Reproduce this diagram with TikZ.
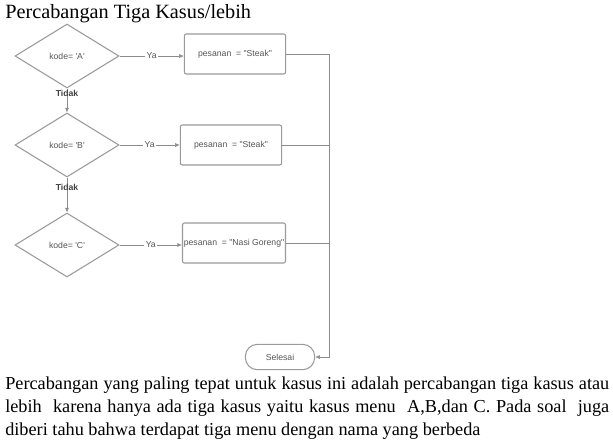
\documentclass[tikz,border=0pt]{standalone}
\usepackage{fontspec}
\setmainfont{Liberation Serif}
\newfontfamily\diagfont{Liberation Sans}
\usetikzlibrary{shapes.geometric,arrows.meta}

\definecolor{linegray}{HTML}{8C8C8C}
\definecolor{boxgray}{HTML}{9A9A9A}
\definecolor{txtgray}{HTML}{555555}

\tikzset{
  cek/.style={diamond,draw=boxgray,thick,minimum width=78pt,minimum height=48pt,
    inner sep=0pt,font=\diagfont\fontsize{6.5}{7}\selectfont,text=txtgray},
  proses/.style={rectangle,draw=boxgray,thick,rounded corners=1.5pt,minimum width=76pt,
    minimum height=30pt,inner sep=1pt,font=\diagfont\fontsize{6.5}{7}\selectfont,text=txtgray},
  akhir/.style={rectangle,draw=boxgray,thick,rounded corners=9pt,minimum width=52pt,
    minimum height=19pt,font=\diagfont\fontsize{6.5}{7}\selectfont,text=txtgray},
  alur/.style={draw=linegray,-{Latex[length=3.5pt,width=3pt]}},
  garis/.style={draw=linegray},
  ket/.style={fill=white,inner sep=1pt,font=\diagfont\fontsize{6.5}{7}\selectfont,text=txtgray},
  tidak/.style={font=\diagfont\bfseries\fontsize{6.5}{7}\selectfont,text=black!75}
}

\begin{document}
\begin{tikzpicture}[x=0.75pt,y=-0.75pt]
\useasboundingbox (0,0) rectangle (613,444);

% judul
\node[anchor=base west,inner sep=0pt,font=\fontsize{15.2}{18}\selectfont] (judul) at (5,18) {Percabangan Tiga Kasus/lebih};

% keputusan
\node[cek] (ka) at (67,56) {kode= 'A'};
\node[cek] (kb) at (67,145) {kode= 'B'};
\node[cek] (kc) at (67,245) {kode= 'C'};

% proses
\node[proses] (pa) at (235,54) {pesanan \ = "Steak"};
\node[proses] (pb) at (231,145) {pesanan \ = "Steak"};
\node[proses] (pc) at (234,243) {pesanan \ = "Nasi Goreng"};

% selesai
\node[akhir] (sel) at (280,357) {Selesai};
\coordinate (belok) at (329,357);

% Ya
\draw[alur] (ka.east) -- node[ket] {Ya} (pa.west |- ka.east);
\draw[alur] (kb.east) -- node[ket] {Ya} (pb.west |- kb.east);
\draw[alur] (kc.east) -- node[ket] {Ya} (pc.west |- kc.east);

% Tidak
\draw[alur] (ka.south) -- node[tidak,pos=0.22] {Tidak} (kb.north);
\draw[alur] (kb.south) -- node[tidak,pos=0.28] {Tidak} (kc.north);

% ke selesai
\draw[alur] (pa.east) -| (belok) -- (sel.east);
\draw[garis] (pb.east) -- (pb.east -| belok);
\draw[garis] (pc.east) -- (pc.east -| belok);

% penjelasan
\node[anchor=north west,inner sep=0pt,text width=453pt,align=justify,
  font=\fontsize{13.7}{16.9}\selectfont] (teks) at (5,377)
  {Percabangan yang paling tepat untuk kasus ini adalah percabangan tiga kasus atau\linebreak
   lebih\ \ karena hanya ada tiga kasus yaitu kasus menu\ \ A,B,dan C. Pada soal\ \ juga\linebreak
   diberi tahu bahwa terdapat tiga menu dengan nama yang berbeda};

\end{tikzpicture}
\end{document}
